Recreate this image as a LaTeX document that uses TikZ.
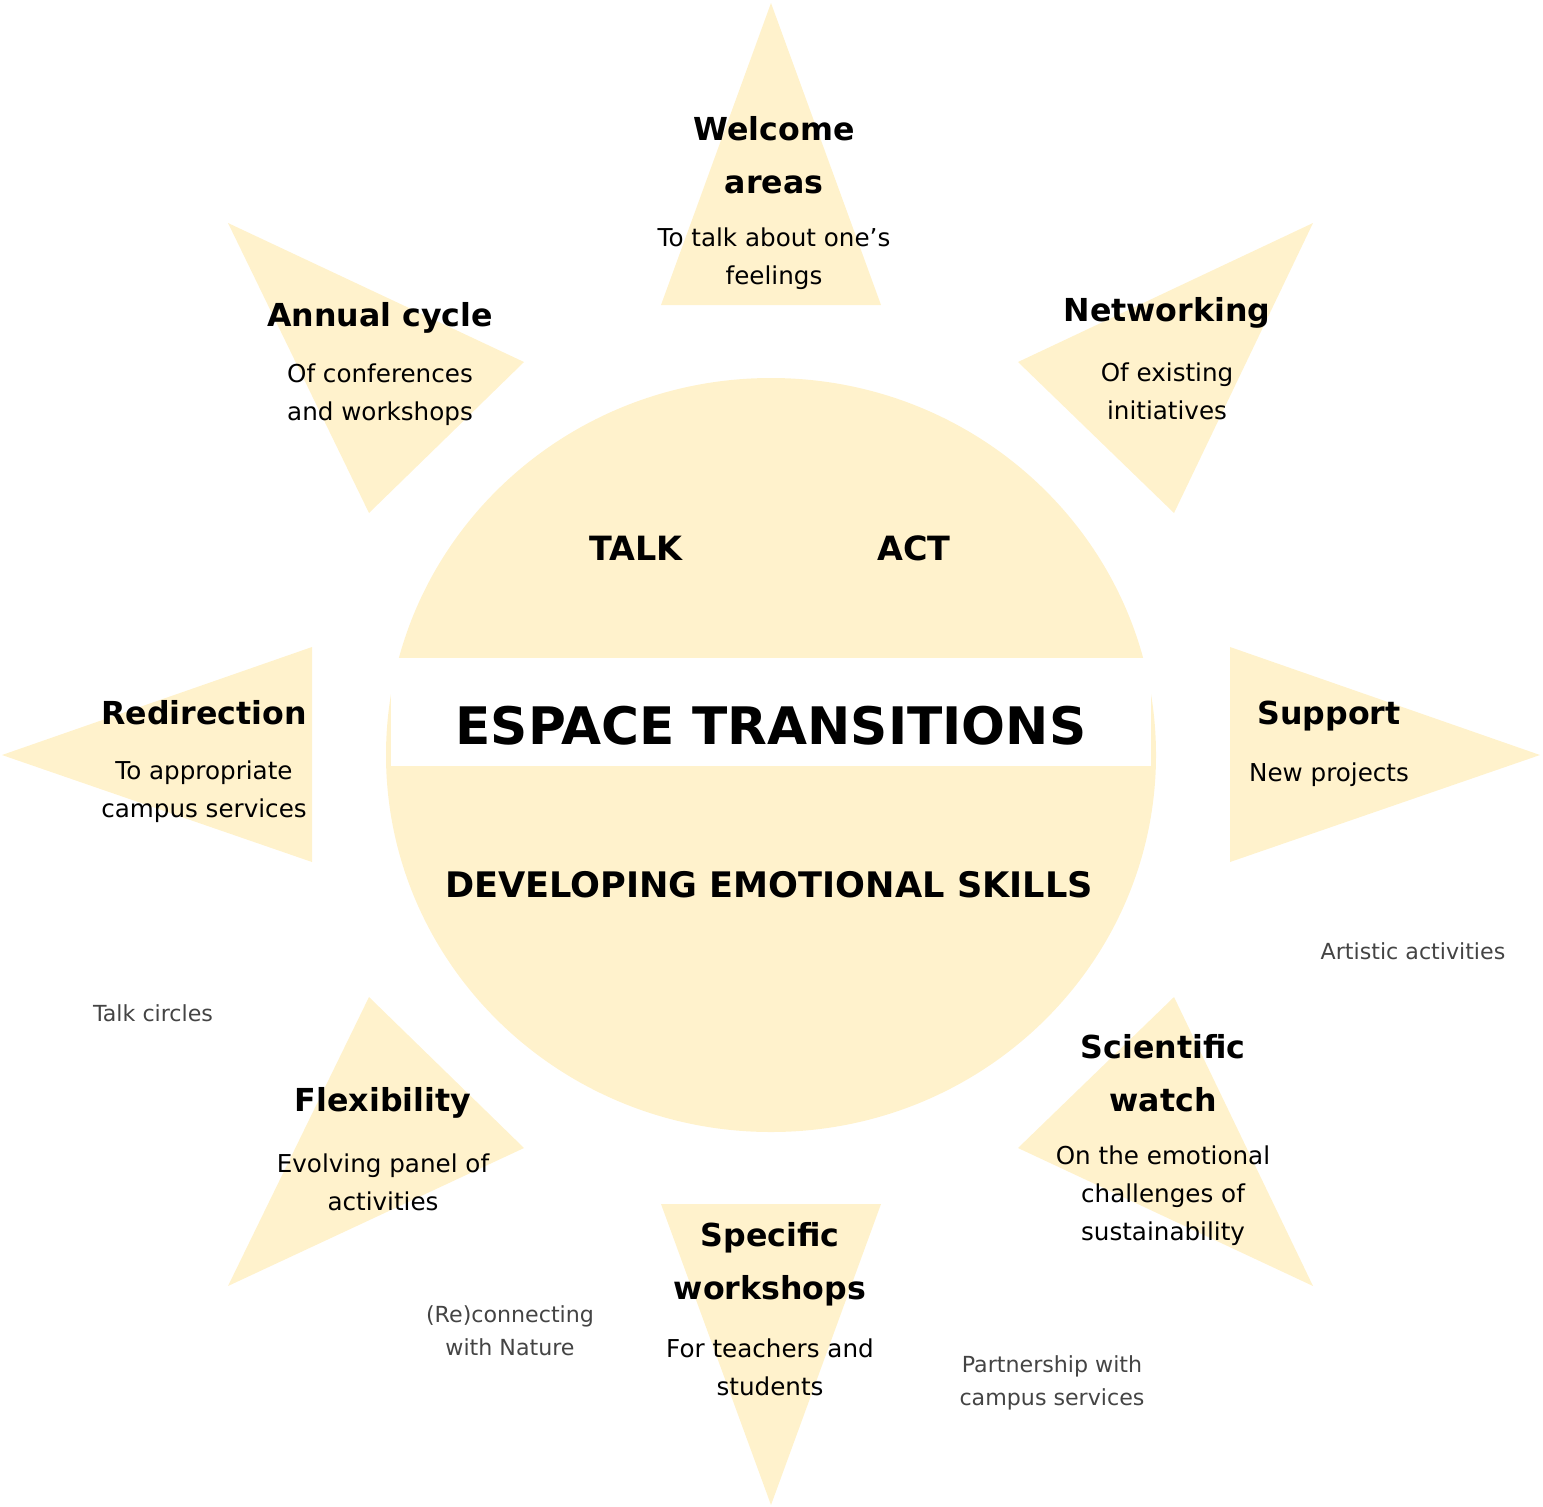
\documentclass[tikz,border=0pt]{standalone}
\usepackage{fontspec}
\setmainfont{DejaVu Sans}
\usepackage{tikz}

\definecolor{sunfill}{HTML}{FFF2CC}
\definecolor{notegray}{HTML}{444444}

\begin{document}
\begin{tikzpicture}[x=0.01cm,y=-0.01cm,
  ray/.style={fill=sunfill},
  head/.style={font=\bfseries\fontsize{9}{15}\selectfont,align=center,inner sep=0pt},
  body/.style={font=\fontsize{7}{10.8}\selectfont,align=center,inner sep=0pt},
  note/.style={font=\fontsize{6.3}{9.4}\selectfont,align=center,inner sep=0pt,text=notegray}]
  \useasboundingbox (0,0) rectangle (1543,1506);
  % the rays
  \foreach \ax/\ay/\bx/\by/\cx/\cy in {771/3/661/305/881/305, 1313/223/1018/362/1174/513,
      1540/755/1230/647/1230/862, 1313/1286/1018/1148/1174/997,
      771/1505/661/1204/881/1204, 228/1286/524/1148/369/997,
      2/755/312/647/312/862, 228/223/524/362/369/513} {
    \fill[ray] (\ax,\ay)--(\bx,\by)--(\cx,\cy)--cycle;
  };
  % the sun
  \fill[sunfill] (771,755) ellipse (385 and 377);
  \node[fill=white,minimum width=7.59cm,minimum height=1.07cm,inner sep=0pt] (espace) at (771,712) {};
  \node[inner sep=0pt,font=\bfseries\fontsize{14.7}{18}\selectfont] (title) at (771,726) {ESPACE TRANSITIONS};
  \node[head,font=\bfseries\fontsize{9.5}{15}\selectfont] (talk) at (636,548) {TALK};
  \node[head,font=\bfseries\fontsize{9.5}{15}\selectfont] (act) at (914,548) {ACT};
  \node[head,font=\bfseries\fontsize{10}{15}\selectfont] (skills) at (769,885) {DEVELOPING EMOTIONAL SKILLS};
  % rays text
  \node[head] (welcome) at (774,155) {Welcome\\areas};
  \node[body] (welcomeb) at (774,259) {To talk about one’s\\feelings};
  \node[head] (annual) at (380,318) {Annual cycle};
  \node[body] (annualb) at (380,395) {Of conferences\\and workshops};
  \node[head] (network) at (1167,313) {Networking};
  \node[body] (networkb) at (1167,391) {Of existing\\initiatives};
  \node[head] (redir) at (204,713) {Redirection};
  \node[body] (redirb) at (204,792) {To appropriate\\campus services};
  \node[head] (support) at (1329,716) {Support};
  \node[body] (supportb) at (1329,775) {New projects};
  \node[head] (flex) at (383,1103) {Flexibility};
  \node[body] (flexb) at (383,1182) {Evolving panel of\\activities};
  \node[head] (watch) at (1163,1073) {Scientific\\watch};
  \node[body] (watchb) at (1163,1196) {On the emotional\\challenges of\\sustainability};
  \node[head] (specific) at (770,1264) {Specific\\workshops};
  \node[body] (specificb) at (770,1367) {For teachers and\\students};
  % loose notes
  \node[note] (artistic) at (1413,951) {Artistic activities};
  \node[note] (circles) at (153,1013) {Talk circles};
  \node[note] (nature) at (510,1331) {(Re)connecting\\with Nature};
  \node[note] (partner) at (1052,1383) {Partnership with\\campus services};
\end{tikzpicture}
\end{document}
